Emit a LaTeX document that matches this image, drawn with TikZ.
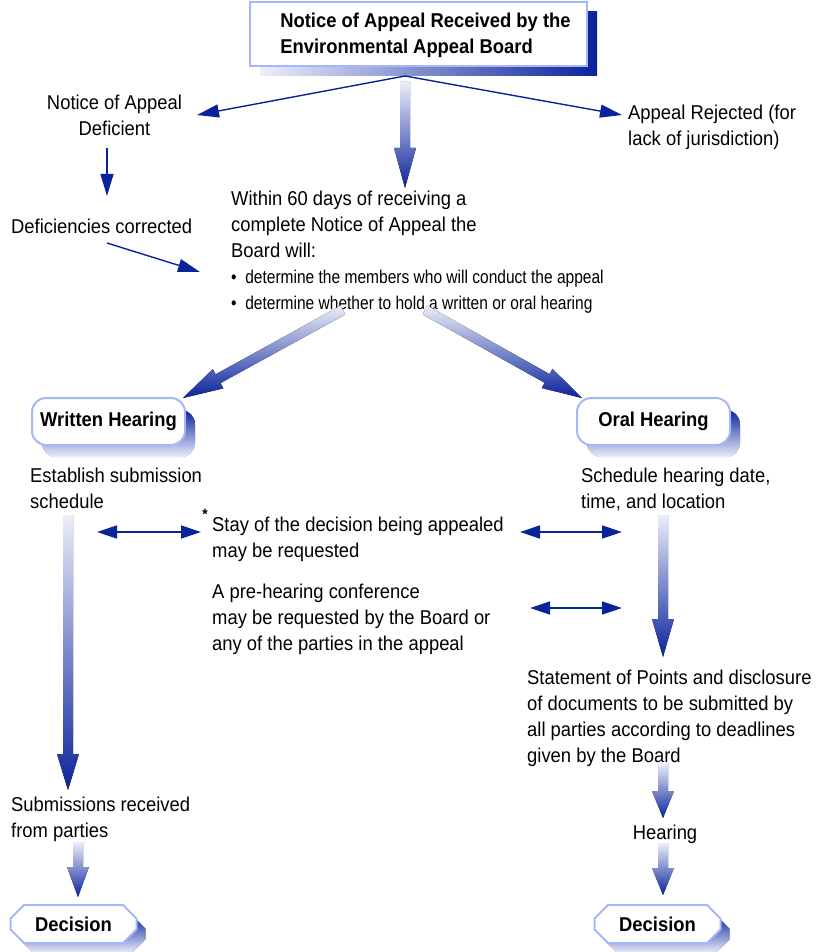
\documentclass[tikz,border=0pt]{standalone}
\usepackage{fontspec}
\setmainfont{Liberation Sans}[FakeStretch=0.92]
\newfontfamily\narrowsf{Liberation Sans}[FakeStretch=0.84]
\usetikzlibrary{arrows.meta,calc,shadows,shapes.misc}
\definecolor{navy}{RGB}{10,35,155}
\definecolor{paleblue}{RGB}{236,238,250}
\definecolor{rimblue}{RGB}{165,182,250}

\newcommand\fatarrow[3][36pt]{%
  \coordinate (hb) at ($(#3)!#1!(#2)$);
  \fill[fat] ($(#2)!5pt!90:(#3)$) -- ($(hb)!5pt!90:(#3)$) -- ($(hb)!11pt!90:(#3)$) -- (#3)
    -- ($(hb)!11pt!-90:(#3)$) -- ($(hb)!5pt!-90:(#3)$) -- ($(#2)!5pt!-90:(#3)$) -- cycle;}

\begin{document}
\begin{tikzpicture}[x=1pt, y=-1pt,
  txt/.style={font=\fontsize{20}{26}\selectfont, inner sep=0pt, align=left, anchor=north west},
  titlebox/.style={draw=rimblue, line width=2pt, fill=white, minimum width=337pt, minimum height=64pt,
    align=left, font=\bfseries\fontsize{20}{26}\selectfont,
    drop shadow={shadow xshift=10pt, shadow yshift=-10pt, opacity=1, left color=paleblue, right color=navy}},
  hearbox/.style={draw=rimblue, line width=2pt, fill=white, rounded corners=14pt,
    minimum width=153pt, minimum height=47pt, font=\bfseries\fontsize{20}{26}\selectfont,
    drop shadow={shadow xshift=10pt, shadow yshift=-12pt, opacity=1, top color=navy, bottom color=paleblue}},
  decbox/.style={chamfered rectangle, chamfered rectangle xsep=10pt, draw=rimblue, line width=2pt, fill=white,
    minimum width=126pt, minimum height=38pt, font=\bfseries\fontsize{20}{26}\selectfont,
    drop shadow={shadow xshift=9pt, shadow yshift=-10pt, opacity=1, top color=navy, bottom color=paleblue}},
  fat/.style={top color=paleblue, bottom color=navy},
  thinarr/.style={navy, line width=1.4pt, -{Triangle[length=22pt,width=13pt]}},
  dblarr/.style={navy, line width=1.4pt, {Triangle[length=20pt,width=13pt]}-{Triangle[length=20pt,width=13pt]}}]
\useasboundingbox (0,0) rectangle (817,952);

\node[titlebox] (title) at (418.5,34) {\hspace*{14pt}\rule{0pt}{17pt}Notice of Appeal Received by the\\\hspace*{14pt}Environmental Appeal Board};

\node[txt, align=center, anchor=north] (def) at (114.5,95) {Notice of Appeal\\Deficient};
\node[txt] (rej) at (628,105) {Appeal Rejected (for\\lack of jurisdiction)};
\node[txt] (corr) at (11,219) {Deficiencies corrected};
\node[txt] (within) at (231,191) {Within 60 days of receiving a\\complete Notice of Appeal the\\Board will:\\
  {\narrowsf\fontsize{18.5}{26}\selectfont\textbullet\ \ determine the members who will conduct the appeal}\\
  {\narrowsf\fontsize{18.5}{26}\selectfont\textbullet\ \ determine whether to hold a written or oral hearing}};

\node[hearbox] (written) at (108.5,421.5) {Written Hearing};
\node[hearbox] (oral) at (653.5,421.5) {Oral Hearing};

\node[txt] (estab) at (30,468) {Establish submission\\schedule};
\node[txt] (sched) at (581,468) {Schedule hearing date,\\time, and location};
\node[inner sep=0pt, font=\bfseries\fontsize{15}{15}\selectfont] (star) at (205,514) {*};
\node[txt] (stay) at (212,517) {Stay of the decision being appealed\\may be requested};
\node[txt] (prehear) at (212,584) {A pre-hearing conference\\may be requested by the Board or\\any of the parties in the appeal};
\node[txt] (points) at (527,670) {Statement of Points and disclosure\\of documents to be submitted by\\all parties according to deadlines\\given by the Board};
\node[txt, anchor=base] (hearing) at (665,839) {Hearing};
\node[txt] (subm) at (11,797) {Submissions received\\from parties};

\node[decbox] (decl) at (73.5,924) {Decision};
\node[decbox] (decr) at (657.5,924) {Decision};

% thin connectors
\coordinate (fork) at (405,76);
\coordinate (defin) at (197,115);
\coordinate (rejin) at (622,115);
\coordinate (defout) at (107,148);
\coordinate (corrin) at (107,196);
\coordinate (corrout) at (107,243);
\coordinate (bulletin) at (200,272);
\draw[thinarr] (fork) -- (defin);
\draw[thinarr] (fork) -- (rejin);
\draw[thinarr] (defout) -- (corrin);
\draw[thinarr] (corrout) -- (bulletin);

\coordinate (stayl) at (97,532);
\coordinate (stayr) at (201,532);
\coordinate (stayl2) at (520,532);
\coordinate (stayr2) at (622,532);
\coordinate (prel) at (530,608);
\coordinate (prer) at (622,608);
\draw[dblarr] (stayl) -- (stayr);
\draw[dblarr] (stayl2) -- (stayr2);
\draw[dblarr] (prel) -- (prer);

% shaded arrows
\coordinate (a1) at (405,82);
\coordinate (a2) at (405,188);
\coordinate (b1) at (343,310);
\coordinate (b2) at (183,398);
\coordinate (c1) at (425,310);
\coordinate (c2) at (582,398);
\coordinate (d1) at (68,515);
\coordinate (d2) at (68,790);
\coordinate (e1) at (663,515);
\coordinate (e2) at (663,657);
\coordinate (f1) at (663,763);
\coordinate (f2) at (663,818);
\coordinate (g1) at (663,843);
\coordinate (g2) at (663,895);
\coordinate (h1) at (78,842);
\coordinate (h2) at (78,897);
\fatarrow[40pt]{a1}{a2}
\fatarrow[40pt]{b1}{b2}
\fatarrow[40pt]{c1}{c2}
\fatarrow{d1}{d2}
\fatarrow[38pt]{e1}{e2}
\fatarrow[27pt]{f1}{f2}
\fatarrow[27pt]{g1}{g2}
\fatarrow[30pt]{h1}{h2}
\end{tikzpicture}
\end{document}
